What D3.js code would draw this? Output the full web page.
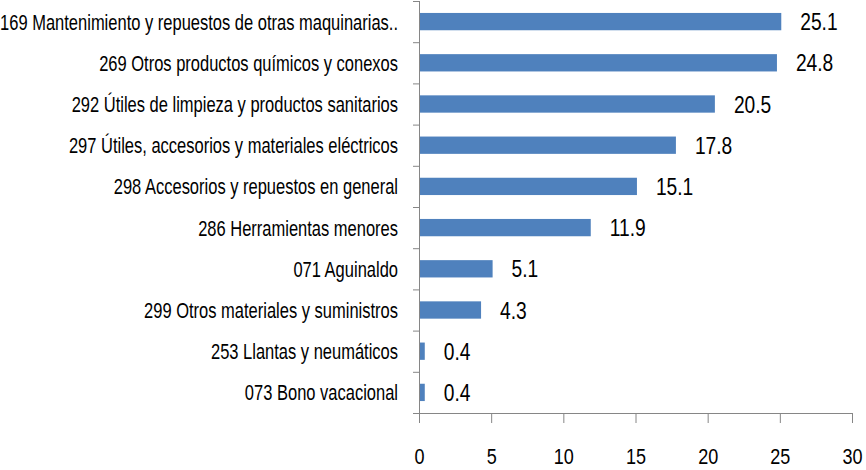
<!DOCTYPE html>
<html>
<head>
<meta charset="utf-8">
<script src="https://cdn.jsdelivr.net/npm/d3@7"></script>
<style>
  body { margin: 0; background: #fff; }
  text { font-family: "Liberation Sans", Arial, sans-serif; fill: #000; }
</style>
</head>
<body>
<div id="plot-container"></div>
<script>
// data
var categories = [
  '169 Mantenimiento y repuestos de  otras maquinarias..',
  '269 Otros productos químicos y conexos',
  '292 Útiles de limpieza y productos sanitarios',
  '297 Útiles, accesorios y materiales eléctricos',
  '298 Accesorios y repuestos en general',
  '286 Herramientas menores',
  '071 Aguinaldo',
  '299 Otros materiales y suministros',
  '253 Llantas y neumáticos',
  '073 Bono vacacional'
];
var values = [25.1, 24.8, 20.5, 17.8, 15.1, 11.9, 5.1, 4.3, 0.4, 0.4];
var xTicks = [0, 5, 10, 15, 20, 25, 30];

var totalWidth = 866, totalHeight = 470;
var margins = {top: 1, left: 419, right: 14, bottom: 57};
var width = totalWidth - margins.left - margins.right;
var height = totalHeight - margins.top - margins.bottom;

var xScale = d3.scaleLinear().domain([0, 30]).range([0, width]);
var yScale = d3.scaleBand().domain(categories).range([0, height]).paddingInner(0.58).paddingOuter(0.29);

var svg = d3.select('#plot-container').append('svg').attr('width', totalWidth).attr('height', totalHeight);
var plot = svg.append('g').attr('transform', 'translate(' + [margins.left, margins.top] + ')');

// bars
plot.selectAll('rect.bar').data(values).enter().append('rect').attr('class', 'bar')
  .attr('x', 0).attr('y', function(d,i) { return yScale(categories[i]); })
  .attr('width', function(d) { return xScale(d); }).attr('height', yScale.bandwidth())
  .attr('fill', '#4f81bd');

// value labels
plot.selectAll('text.value').data(values).enter().append('text').attr('class', 'value')
  .attr('transform', function(d,i) { return 'translate(' + [xScale(d) + 19, yScale(categories[i]) + yScale.bandwidth() / 2] + ') scale(0.8,1)'; })
  .attr('dy', '0.36em').style('font-size', '24px')
  .text(function(d) { return d.toFixed(1); });

// x axis
var xAxis = plot.append('g').attr('transform', 'translate(0,' + height + ')')
  .call(d3.axisBottom(xScale).tickValues(xTicks).tickSize(10).tickPadding(25));
xAxis.selectAll('text').style('font-size', '22px').attr('transform', 'scale(0.82,1)');
xAxis.selectAll('line, path').attr('stroke', '#868686');

// y axis: ticks at band boundaries
var step = yScale.step();
var bounds = d3.range(categories.length + 1).map(function(i) { return i * step; });
plot.append('line').attr('x1', 0.5).attr('x2', 0.5).attr('y1', 0).attr('y2', height).attr('stroke', '#868686');
plot.selectAll('line.ytick').data(bounds).enter().append('line').attr('class', 'ytick')
  .attr('x1', -6).attr('x2', 0).attr('y1', function(d) { return d + 0.5; }).attr('y2', function(d) { return d + 0.5; })
  .attr('stroke', '#868686');

// category labels
plot.selectAll('text.cat').data(categories).enter().append('text').attr('class', 'cat')
  .attr('text-anchor', 'end')
  .attr('transform', function(d) { return 'translate(' + [-21, yScale(d) + yScale.bandwidth() / 2] + ') scale(0.75,1)'; })
  .attr('dy', '0.36em').style('font-size', '22px')
  .text(function(d) { return d; });
</script>
</body>
</html>
